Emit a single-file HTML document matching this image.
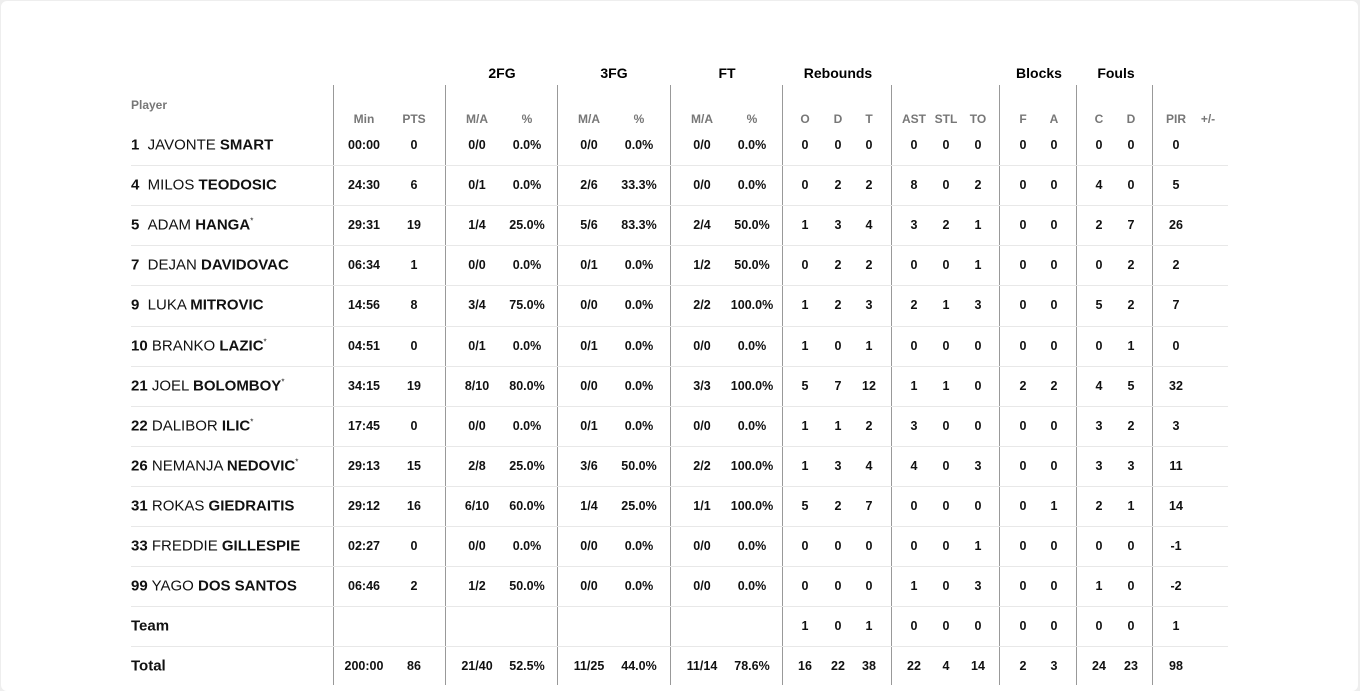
<!DOCTYPE html>
<html><head><meta charset="utf-8"><style>
html,body{margin:0;padding:0;width:1360px;height:683px;overflow:hidden;background:#eee;font-family:"Liberation Sans",sans-serif;}
#card{position:absolute;left:1px;top:1px;width:1357px;height:690px;background:#fff;border-radius:6px;}
.t{position:absolute;transform:translate(-50%,-50%);white-space:nowrap;color:#111;font-weight:bold;font-size:12.5px;}
.g{position:absolute;transform:translate(-50%,-50%);white-space:nowrap;color:#000;font-weight:bold;font-size:14px;}
.h{position:absolute;transform:translate(-50%,-50%);white-space:nowrap;color:#777;font-weight:bold;font-size:12px;}
.n{position:absolute;left:131px;transform:translateY(-50%);white-space:nowrap;color:#111;font-size:15px;}
.n b{font-weight:bold}
.v{position:absolute;top:85px;height:600px;width:1px;background:#999;}
.r{position:absolute;left:131px;width:1097px;height:1px;background:#e8e8e8;}
</style></head><body><div id="card"></div>
<div id="c"></div>
<script>
var c=document.getElementById('c'),h='';
[333,445,557,670,782,891,999,1076,1152].forEach(function(x){h+='<div class="v" style="left:'+x+'px"></div>';});
[['2FG',502],['3FG',614],['FT',727],['Rebounds',838],['Blocks',1039],['Fouls',1116]].forEach(function(a){h+='<div class="g" style="left:'+a[1]+'px;top:73px">'+a[0]+'</div>';});
h+='<div class="h" style="left:131px;top:105px;transform:translateY(-50%)">Player</div>';
var xs=[364,414,477,527,589,639,702,752,805,838,869,914,946,978,1023,1054,1099,1131,1176,1208];
var hd=['Min','PTS','M/A','%','M/A','%','M/A','%','O','D','T','AST','STL','TO','F','A','C','D','PIR','+/-'];
hd.forEach(function(s,i){h+='<div class="h" style="left:'+xs[i]+'px;top:119px">'+s+'</div>';});
var rows=[
['<b>1</b>&nbsp;&nbsp;JAVONTE <b>SMART</b>','00:00 0 0/0 0.0% 0/0 0.0% 0/0 0.0% 0 0 0 0 0 0 0 0 0 0 0'],
['<b>4</b>&nbsp;&nbsp;MILOS <b>TEODOSIC</b>','24:30 6 0/1 0.0% 2/6 33.3% 0/0 0.0% 0 2 2 8 0 2 0 0 4 0 5'],
['<b>5</b>&nbsp;&nbsp;ADAM <b>HANGA</b><sup style="font-size:8px">*</sup>','29:31 19 1/4 25.0% 5/6 83.3% 2/4 50.0% 1 3 4 3 2 1 0 0 2 7 26'],
['<b>7</b>&nbsp;&nbsp;DEJAN <b>DAVIDOVAC</b>','06:34 1 0/0 0.0% 0/1 0.0% 1/2 50.0% 0 2 2 0 0 1 0 0 0 2 2'],
['<b>9</b>&nbsp;&nbsp;LUKA <b>MITROVIC</b>','14:56 8 3/4 75.0% 0/0 0.0% 2/2 100.0% 1 2 3 2 1 3 0 0 5 2 7'],
['<b>10</b> BRANKO <b>LAZIC</b><sup style="font-size:8px">*</sup>','04:51 0 0/1 0.0% 0/1 0.0% 0/0 0.0% 1 0 1 0 0 0 0 0 0 1 0'],
['<b>21</b> JOEL <b>BOLOMBOY</b><sup style="font-size:8px">*</sup>','34:15 19 8/10 80.0% 0/0 0.0% 3/3 100.0% 5 7 12 1 1 0 2 2 4 5 32'],
['<b>22</b> DALIBOR <b>ILIC</b><sup style="font-size:8px">*</sup>','17:45 0 0/0 0.0% 0/1 0.0% 0/0 0.0% 1 1 2 3 0 0 0 0 3 2 3'],
['<b>26</b> NEMANJA <b>NEDOVIC</b><sup style="font-size:8px">*</sup>','29:13 15 2/8 25.0% 3/6 50.0% 2/2 100.0% 1 3 4 4 0 3 0 0 3 3 11'],
['<b>31</b> ROKAS <b>GIEDRAITIS</b>','29:12 16 6/10 60.0% 1/4 25.0% 1/1 100.0% 5 2 7 0 0 0 0 1 2 1 14'],
['<b>33</b> FREDDIE <b>GILLESPIE</b>','02:27 0 0/0 0.0% 0/0 0.0% 0/0 0.0% 0 0 0 0 0 1 0 0 0 0 -1'],
['<b>99</b> YAGO <b>DOS SANTOS</b>','06:46 2 1/2 50.0% 0/0 0.0% 0/0 0.0% 0 0 0 1 0 3 0 0 1 0 -2'],
['<b>Team</b>','_ _ _ _ _ _ _ _ 1 0 1 0 0 0 0 0 0 0 1'],
['<b>Total</b>','200:00 86 21/40 52.5% 11/25 44.0% 11/14 78.6% 16 22 38 22 4 14 2 3 24 23 98']];
rows.forEach(function(r,k){var y=145+k*40.1;
 if(k>0)h+='<div class="r" style="top:'+Math.round(y-20)+'px"></div>';
 h+='<div class="n" style="top:'+y+'px">'+r[0]+'</div>';
 r[1].split(' ').forEach(function(s,i){if(s!='_')h+='<div class="t" style="left:'+xs[i]+'px;top:'+y+'px">'+s+'</div>';});
});
c.innerHTML=h;
</script></body></html>
